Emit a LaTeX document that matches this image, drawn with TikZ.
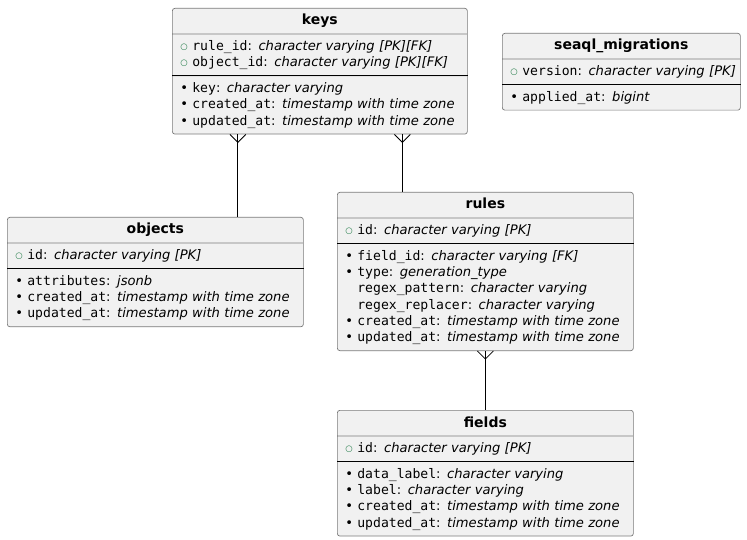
\documentclass[tikz,border=0pt]{standalone}
\usepackage{fontspec}
\setmainfont{DejaVu Sans}
\setmonofont{DejaVu Sans Mono}
\usetikzlibrary{shapes.multipart,calc}

\definecolor{tablefill}{HTML}{F1F1F1}
\definecolor{tableline}{HTML}{7A7A7A}
\definecolor{pkgreen}{HTML}{1F7A45}

\newcommand\rowstrut{\rule[-4.3pt]{0pt}{16.3pt}}
\newcommand\tname[1]{\hspace*{\fill}{\fontsize{14}{16.3}\selectfont\bfseries #1}\hspace*{\fill}\rowstrut}
\newcommand\pkmark{\raisebox{1.2pt}{\fontsize{8.5}{8.5}\selectfont\textcolor{pkgreen}{○}}}
\newcommand\pkrow[2]{\mbox{\makebox[12pt][l]{\pkmark}\texttt{#1}: \textit{#2}\rowstrut}}
\newcommand\colrow[2]{\mbox{\makebox[12pt][l]{•}\texttt{#1}: \textit{#2}\rowstrut}}
\newcommand\optrow[2]{\mbox{\makebox[12pt][l]{}\texttt{#1}: \textit{#2}\rowstrut}}

\begin{document}
\begin{tikzpicture}[x=1pt, y=-1pt,
    table/.style={rectangle split, rectangle split parts=3, draw=tableline, fill=tablefill,
      rounded corners=2.5pt, line width=0.7pt, anchor=north west, align=left,
      inner xsep=8pt, inner ysep=4.3pt, font=\fontsize{13.1}{16.3}\selectfont},
    pkline/.style={line width=0.9pt},
    link/.style={line width=0.8pt},
    crow/.pic={\draw[link] (-8pt,0pt) -- (0pt,-8pt) -- (8pt,0pt);}]
  \useasboundingbox (0,0) rectangle (747,540);

  \node[table, text width=279pt] (keys) at (172,8) {\tname{keys}
    \nodepart{two}\pkrow{rule\_id}{character varying [PK][FK]}\\
      \pkrow{object\_id}{character varying [PK][FK]}
    \nodepart{three}\colrow{key}{character varying}\\
      \colrow{created\_at}{timestamp with time zone}\\
      \colrow{updated\_at}{timestamp with time zone}};
  \node[table, text width=222pt] (seaql) at (502,33) {\tname{seaql\_migrations}
    \nodepart{two}\pkrow{version}{character varying [PK]}
    \nodepart{three}\colrow{applied\_at}{bigint}};
  \node[table, text width=280pt] (objects) at (7,217) {\tname{objects}
    \nodepart{two}\pkrow{id}{character varying [PK]}
    \nodepart{three}\colrow{attributes}{jsonb}\\
      \colrow{created\_at}{timestamp with time zone}\\
      \colrow{updated\_at}{timestamp with time zone}};
  \node[table, text width=280pt] (rules) at (337,192) {\tname{rules}
    \nodepart{two}\pkrow{id}{character varying [PK]}
    \nodepart{three}\colrow{field\_id}{character varying [FK]}\\
      \colrow{type}{generation\_type}\\
      \optrow{regex\_pattern}{character varying}\\
      \optrow{regex\_replacer}{character varying}\\
      \colrow{created\_at}{timestamp with time zone}\\
      \colrow{updated\_at}{timestamp with time zone}};
  \node[table, text width=280pt] (fields) at (337,410) {\tname{fields}
    \nodepart{two}\pkrow{id}{character varying [PK]}
    \nodepart{three}\colrow{data\_label}{character varying}\\
      \colrow{label}{character varying}\\
      \colrow{created\_at}{timestamp with time zone}\\
      \colrow{updated\_at}{timestamp with time zone}};

  % darker line under the key columns
  \foreach \t in {keys,seaql,objects,rules,fields}
    \draw[pkline] (\t.two split west) -- (\t.two split east);

  % links, crow's foot at the many side
  \coordinate (ko) at ($(keys.south west)!.5!(objects.north east)$);
  \coordinate (kr) at ($(rules.north west)!.5!(keys.south east)$);
  \coordinate (rf) at ($(fields.north west)!.5!(rules.south east)$);
  \draw[link] (keys.south -| ko) -- (objects.north -| ko);
  \draw[link] (keys.south -| kr) -- (rules.north -| kr);
  \draw[link] (rules.south -| rf) -- (fields.north -| rf);
  \pic at (keys.south -| ko) {crow};
  \pic at (keys.south -| kr) {crow};
  \pic at (rules.south -| rf) {crow};
\end{tikzpicture}
\end{document}
